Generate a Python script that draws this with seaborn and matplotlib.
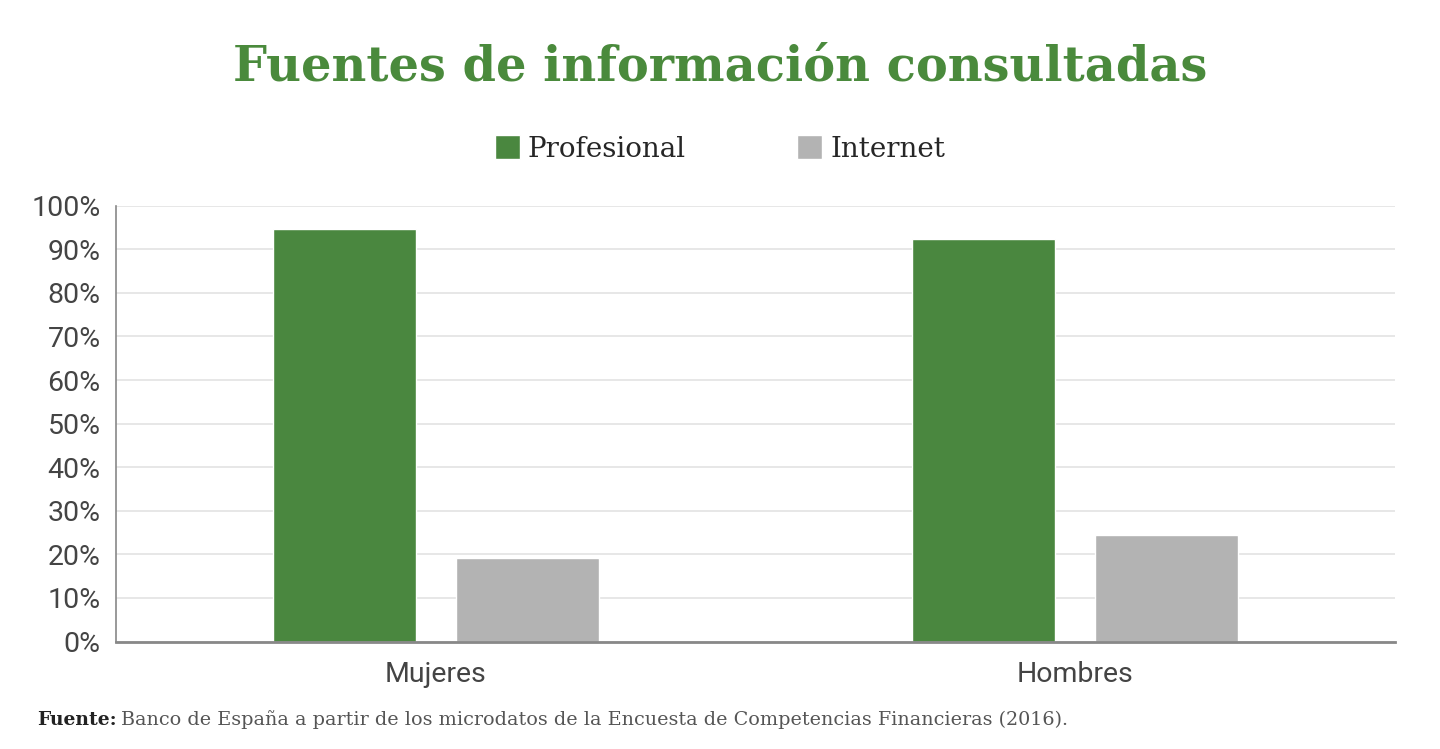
import matplotlib
matplotlib.use("Agg")
import matplotlib.pyplot as plt
import seaborn as sns
import pandas as pd
from matplotlib.patches import Patch

categories = ["Mujeres", "Hombres"]
series = ["Profesional", "Internet"]
profesional = [94.7, 92.4]
internet = [19.2, 24.4]
yticks = [0, 10, 20, 30, 40, 50, 60, 70, 80, 90, 100]

df = pd.DataFrame({
    "cat": categories * 2,
    "serie": [series[0]] * 2 + [series[1]] * 2,
    "val": profesional + internet,
})

GREEN = "#4A873F"
GREY = "#B3B3B3"
TITLE_GREEN = "#4A8A3C"

sns.set_theme(style="white")
plt.rcParams["font.family"] = ["Roboto", "DejaVu Sans"]

fig = plt.figure(figsize=(14.4, 7.49), dpi=100)
ax = fig.add_axes([116/1440, 1-641.5/749, (1395-116)/1440, (641.5-205.7)/749])

sns.barplot(data=df, x="cat", y="val", hue="serie", order=categories,
            hue_order=series, palette=[GREEN, GREY], width=0.572, gap=0.218,
            saturation=1, legend=False, ax=ax)

ax.set_ylim(0, 100)
ax.set_xlim(-0.5, 1.5)
ax.set_yticks(yticks)
ax.set_yticklabels([f"{v}%" for v in yticks], fontsize=20.5, color="#444444")
ax.set_xticks(range(len(categories)))
ax.set_xticklabels(categories, fontsize=20.5, color="#444444")
ax.tick_params(axis="y", length=0, pad=11)
ax.tick_params(axis="x", length=0, pad=14)
ax.set_xlabel("")
ax.set_ylabel("")
ax.yaxis.grid(True, color="#E3E3E3", linewidth=1.2)
ax.set_axisbelow(True)
for s in ["top", "right"]:
    ax.spines[s].set_visible(False)
ax.spines["left"].set_color("#888888")
ax.spines["left"].set_linewidth(1.2)
ax.spines["bottom"].set_color("#888888")
ax.spines["bottom"].set_linewidth(2)

fig.text(0.5, 1-67/749, "Fuentes de información consultadas", ha="center",
         va="center", fontsize=34.5, fontweight="bold", color=TITLE_GREEN,
         family="DejaVu Serif")

handles = [Patch(facecolor=GREEN), Patch(facecolor=GREY)]
fig.legend(handles, series, loc="center", bbox_to_anchor=(0.5, 1-149/749),
           ncol=2, frameon=False, handlelength=0.9,
           handleheight=0.9, handletextpad=0.3, columnspacing=4,
           prop={"family": "DejaVu Serif", "size": 20})

fig.text(37/1440, 1-720/749, "Fuente:", ha="left", va="center", fontsize=13.5,
         fontweight="bold", color="#222222", family="DejaVu Serif")
fig.text(121/1440, 1-720/749,
         "Banco de España a partir de los microdatos de la Encuesta de Competencias Financieras (2016).",
         ha="left", va="center", fontsize=13.8, color="#555555",
         family="DejaVu Serif")

fig.savefig("out.png", dpi=100, facecolor="white")
